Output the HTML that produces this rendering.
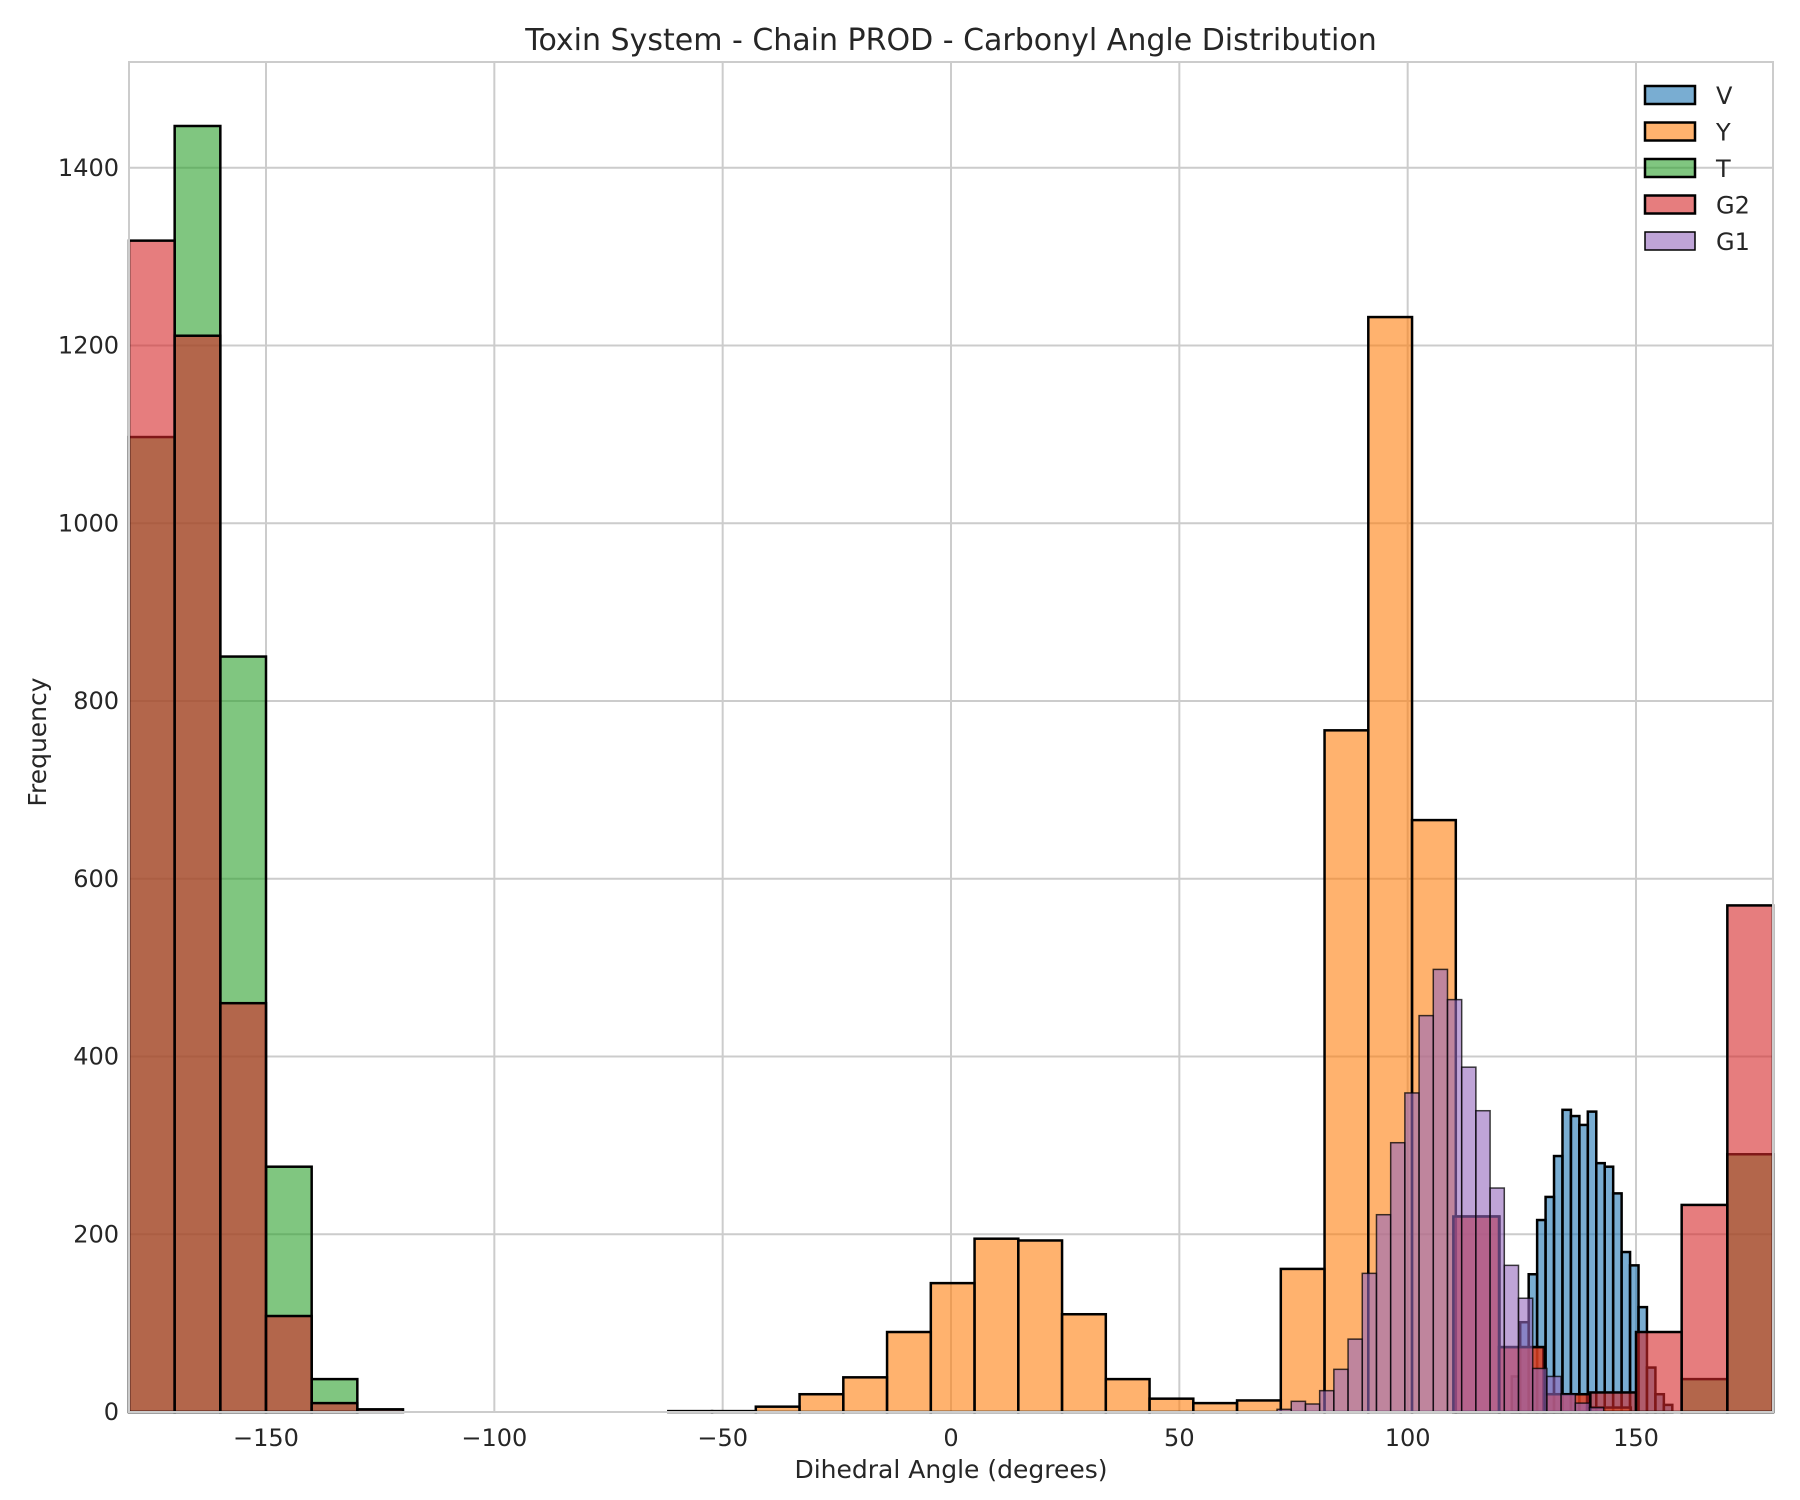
<!DOCTYPE html>
<html><head><meta charset="utf-8">
<style>
html,body{margin:0;padding:0;background:#fff;}
svg{display:block;font-family:"DejaVu Sans","Liberation Sans",sans-serif;}
</style></head>
<body>
<svg id="chart" width="1800" height="1500" viewBox="0 0 1800 1500" xmlns="http://www.w3.org/2000/svg">
<rect width="1800" height="1500" fill="#fff"/>
<g id="grid"></g>
<g id="bars"></g>
<rect x="129" y="62" width="1644" height="1350" fill="none" stroke="#cccccc" stroke-width="2"/>
<g id="ticks"></g>
<text x="951" y="50" font-size="30" text-anchor="middle" fill="#262626">Toxin System - Chain PROD - Carbonyl Angle Distribution</text>
<text x="951" y="1478" font-size="25" text-anchor="middle" fill="#262626">Dihedral Angle (degrees)</text>
<text x="0" y="0" font-size="25" text-anchor="middle" fill="#262626" transform="translate(46,742) rotate(-90)">Frequency</text>
<g id="legend"></g>
</svg>
<script>
const xTicks = [-150, -100, -50, 0, 50, 100, 150];
const yTicks = [0, 200, 400, 600, 800, 1000, 1200, 1400];
const seriesNames = ["V", "Y", "T", "G2", "G1"];
const seriesColors = ["#1f77b4", "#ff7f0e", "#2ca02c", "#d62728", "#9467bd"];
const vStart = 122.8, vWidth = 1.85;
const vValues = [40, 101, 155, 216, 242, 288, 340, 333, 323, 338, 280, 276, 246, 180, 165, 118, 50, 20, 8];
const yStart = -61.9, yWidth = 9.58;
const yValues = [1, 1, 6, 20, 39, 90, 145, 195, 193, 110, 37, 15, 10, 13, 161, 767, 1232, 666, 220, 73, 20, 5];
const tStart = -180, tWidth = 10;
const tValues = [1097, 1447, 850, 276, 37, 0, 0, 0, 0, 0, 0, 0, 0, 0, 0, 0, 0, 0, 0, 0, 0, 0, 0, 0, 0, 0, 0, 0, 0, 0, 0, 0, 0, 0, 37, 290];
const g2Start = -180, g2Width = 10;
const g2Values = [1318, 1211, 460, 108, 10, 3, 0, 0, 0, 0, 0, 0, 0, 0, 0, 0, 0, 0, 0, 0, 0, 0, 0, 0, 0, 0, 0, 0, 0, 220, 73, 20, 22, 90, 233, 570];
const g1Start = 71.4, g1Width = 3.11;
const g1Values = [3, 12, 9, 24, 48, 82, 156, 222, 303, 359, 446, 498, 464, 388, 339, 252, 165, 128, 49, 40, 20, 10, 5];

const NS = "http://www.w3.org/2000/svg";
const L = 129, R = 1773, T = 62, B = 1412;
const xMin = -180, xMax = 180, yMax = 1519;
function xs(v){ return L + (v - xMin) / (xMax - xMin) * (R - L); }
function ys(v){ return B - v / yMax * (B - T); }
function mk(tag, attrs, parent){ const e = document.createElementNS(NS, tag); for (const k in attrs) e.setAttribute(k, attrs[k]); parent.appendChild(e); return e; }

const grid = document.getElementById('grid');
const ticks = document.getElementById('ticks');
xTicks.forEach(t => {
  const gl = mk('line', {x1: xs(t), x2: xs(t), y1: T, y2: B, stroke: '#cccccc', 'stroke-width': 2}, grid);
  
  
  const tx = mk('text', {x: xs(t), y: B + 34, 'font-size': 24, 'text-anchor': 'middle', fill: '#262626'}, ticks);
  tx.textContent = t < 0 ? '\u2212' + Math.abs(t) : String(t);
  
  
});
yTicks.forEach(t => {
  const gl = mk('line', {x1: L, x2: R, y1: ys(t), y2: ys(t), stroke: '#cccccc', 'stroke-width': 2}, grid);
  
  
  const tx = mk('text', {x: L - 10, y: ys(t) + 8, 'font-size': 24, 'text-anchor': 'end', fill: '#262626'}, ticks);
  tx.textContent = String(t);
  
  
});

const bars = document.getElementById('bars');
const allSeries = [
  [vStart, vWidth, vValues, 2.5, 1],
  [yStart, yWidth, yValues, 2.5, 1],
  [tStart, tWidth, tValues, 2.5, 1],
  [g2Start, g2Width, g2Values, 2.5, 1],
  [g1Start, g1Width, g1Values, 1.5, 0.75]
];
allSeries.forEach((s, si) => {
  const g = mk('g', {}, bars);
  
  
  s[2].forEach((v, i) => {
    if (v <= 0) return;
    const x0 = xs(s[0] + i * s[1]), x1 = xs(s[0] + (i + 1) * s[1]);
    const r = mk('rect', {x: x0, y: ys(v), width: x1 - x0, height: ys(0) - ys(v),
      fill: seriesColors[si], 'fill-opacity': 0.6, stroke: '#000', 'stroke-width': s[3], 'stroke-opacity': s[4]}, g);
    
    
  });
});

const lg = document.getElementById('legend');
seriesNames.forEach((n, i) => {
  const cy = 95 + i * 36.5;
  const item = mk('g', {}, lg);
  
  
  mk('rect', {x: 1645, y: cy - 9, width: 50, height: 18, fill: seriesColors[i], 'fill-opacity': 0.6, stroke: '#000', 'stroke-width': i === 4 ? 1.5 : 2.5}, item);
  const t = mk('text', {x: 1716, y: cy + 9, 'font-size': 24, fill: '#262626'}, item);
  t.textContent = n;
});
</script>
</body></html>
